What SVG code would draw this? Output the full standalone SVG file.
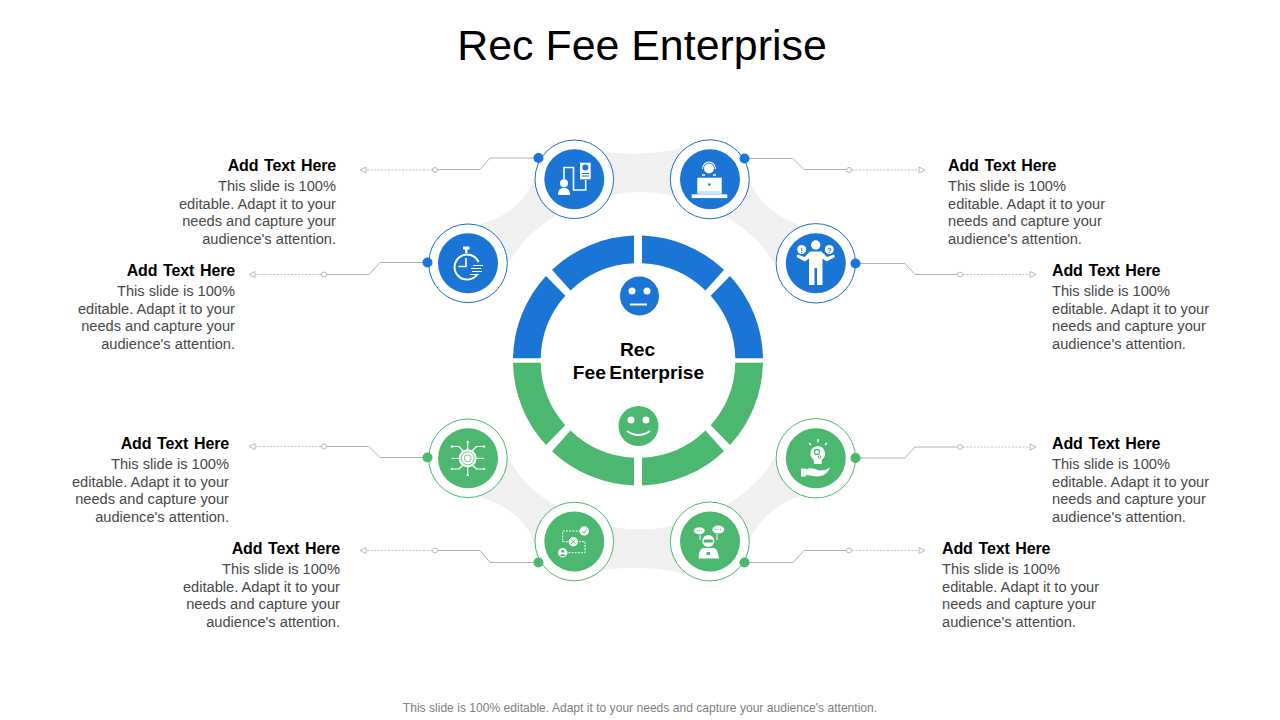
<svg xmlns="http://www.w3.org/2000/svg" width="1280" height="720" viewBox="0 0 1280 720">
<style>
text{font-family:"Liberation Sans",Arial,sans-serif}
.title{font-size:42.9px;fill:#000;text-anchor:middle}
.h{font-size:16px;font-weight:700;fill:#000;word-spacing:1.5px;letter-spacing:-.15px}
.b{font-size:14.65px;fill:#484848}
.e{text-anchor:end}
.foot{font-size:12.08px;fill:#7f7f7f;text-anchor:middle}
.center{font-size:19.2px;font-weight:700;fill:#000;text-anchor:middle}
.blue{fill:#1a75d4}.green{fill:#4cb86f}
.rb{fill:#fff;stroke:#1d6fc0;stroke-width:1}
.rg{fill:#fff;stroke:#4cb86f;stroke-width:1}
.w{fill:#fff}
.ws{fill:none;stroke:#fff;stroke-width:1.6}
.wd{fill:none;stroke:#fff;stroke-width:1;stroke-dasharray:2 1.2}
.line{fill:none;stroke:#b0b0b0;stroke-width:1}
.dash{fill:none;stroke:#c0c0c0;stroke-width:1;stroke-dasharray:2 1.5}
.hol{fill:#fff;stroke:#b8b8b8;stroke-width:1}
.band{fill:#f0f0f0}
</style>
<defs>
<path id="segA" d="M4,-124.94A125,125 0 0 1 86,-90.7L67.5,-70A97.3,97.3 0 0 0 4,-97.2Z"/>
<path id="segB" d="M92,-84.6A125,125 0 0 1 125,-2.2L97.3,-2.2A97.3,97.3 0 0 0 72.7,-64.7Z"/>
<path id="bandTop" d="M468,263L480,224C505,218 530,200 537,170L600,151C625,155 655,155 682,148L746,170C753,200 778,219 803,226L815,263L773,262C752,222 690,192 640,192C590,192 528,222 510,262Z"/>
</defs>
<rect width="1280" height="720" fill="#fff"/>
<text class="title" x="642" y="60">Rec Fee Enterprise</text>
<g id="bands" class="band">
<use href="#bandTop"/>
<use href="#bandTop" transform="translate(0,721.5) scale(1,-1)"/>
</g>
<g id="connectors">
<path class="line" d="M538,158H490L480,169.5H432"/><path class="dash" d="M432,170H365"/><circle class="hol" cx="435" cy="170" r="2.5"/><path class="hol" d="M360,170L366,167V173Z"/>
<path class="line" d="M745,158.500H793L804,169.500H852"/><path class="dash" d="M852,170H920"/><circle class="hol" cx="849" cy="170" r="2.5"/><path class="hol" d="M925,170L919,167V173Z"/>
<path class="line" d="M427,262.500H380L369,274.500H321"/><path class="dash" d="M321,274.500H254"/><circle class="hol" cx="324" cy="274.500" r="2.500"/><path class="hol" d="M249,274.500L255,271.500V277.500Z"/>
<path class="line" d="M856,263.500H905L915,274.500H963"/><path class="dash" d="M963,274.500H1030"/><circle class="hol" cx="960" cy="274.500" r="2.500"/><path class="hol" d="M1036,274.500L1030,271.500V277.500Z"/>
<path class="line" d="M427,457.500H380L369,446.500H321"/><path class="dash" d="M321,446.500H254"/><circle class="hol" cx="324" cy="446.500" r="2.500"/><path class="hol" d="M249,446.500L255,443.500V449.500Z"/>
<path class="line" d="M856,458H905L915,447H963"/><path class="dash" d="M963,447H1030"/><circle class="hol" cx="960" cy="447" r="2.500"/><path class="hol" d="M1036,447L1030,444V450Z"/>
<path class="line" d="M538,562.500H490L480,550.500H432"/><path class="dash" d="M432,550.500H365"/><circle class="hol" cx="435" cy="550.500" r="2.500"/><path class="hol" d="M360,550.500L366,547.500V553.500Z"/>
<path class="line" d="M745,562.500H793L804,550.500H852"/><path class="dash" d="M852,550.500H920"/><circle class="hol" cx="849" cy="550.500" r="2.500"/><path class="hol" d="M925,550.500L919,547.500V553.500Z"/>
</g>
<g id="hub">
<g class="blue" transform="translate(638,360.500)">
<use href="#segA"/><use href="#segB"/>
<g transform="scale(-1,1)"><use href="#segA"/><use href="#segB"/></g>
</g>
<g class="green" transform="translate(638,360.500) scale(1,-1)">
<use href="#segA"/><use href="#segB"/>
<g transform="scale(-1,1)"><use href="#segA"/><use href="#segB"/></g>
</g>
<circle class="blue" cx="639.500" cy="296" r="19.500"/>
<circle class="w" cx="632" cy="291" r="3.500"/><circle class="w" cx="647" cy="291" r="3.500"/>
<rect class="w" x="630" y="303.500" width="17" height="2"/>
<circle class="green" cx="638.500" cy="426" r="20"/>
<circle class="w" cx="631" cy="420" r="3.500"/><circle class="w" cx="646" cy="420" r="3.500"/>
<path d="M627,431Q638.500,439 650,431" fill="none" stroke="#fff" stroke-width="2"/>
<text class="center" x="637.500" y="355.500">Rec</text>
<text class="center" x="638.500" y="378.500" word-spacing="-2">Fee Enterprise</text>
</g>
<g id="node1">
<circle class="rb" cx="574.300" cy="179.300" r="39.300"/><circle class="blue" cx="574.300" cy="179.300" r="30"/><circle class="blue" cx="538.500" cy="158" r="5"/>
<circle class="w" cx="564" cy="183.300" r="4"/><path class="w" d="M558,195C558,189 561,188 564,188C567,188 570,189 570,195Z"/>
<path class="ws" d="M564,179V167.500H573.500V190H585.700V180"/>
<rect class="w" x="580" y="162.700" width="10.700" height="16.600"/><circle class="blue" cx="585.300" cy="167.500" r="3"/><path d="M582,173.500H589M582,176H589" stroke="#1a75d4" stroke-width="1"/>
</g>
<g id="node2">
<circle class="rb" cx="709.800" cy="179.300" r="39.500"/><circle class="blue" cx="710" cy="179.300" r="30"/><circle class="blue" cx="744.500" cy="158.500" r="5"/>
<circle class="w" cx="709" cy="168.500" r="5"/><path d="M702.500,171A6.500,7 0 0 1 715.500,171" fill="none" stroke="#fff" stroke-width="1.200" transform="translate(0,-2)"/><path d="M702,175L705,175M713,175L716,175" stroke="#fff" stroke-width="1.500"/>
<rect class="w" x="697.300" y="177.700" width="24.400" height="15"/><circle class="blue" cx="709.300" cy="184.500" r="1.200"/>
<rect x="697.300" y="191" width="24.400" height="3" fill="#cfe3f7"/><rect class="w" x="691.700" y="194.300" width="35.600" height="3.800"/>
</g>
<g id="node3">
<circle class="rb" cx="468" cy="263.300" r="39.300"/><circle class="blue" cx="468" cy="263.300" r="30"/><circle class="blue" cx="427.500" cy="262.500" r="5"/>
<path d="M477.500,274A12.500,12.500 0 1 1 478.500,262" fill="none" stroke="#fff" stroke-width="2"/>
<rect class="w" x="463" y="246.500" width="6.500" height="3"/><rect class="w" x="465" y="249" width="2.500" height="4"/>
<path class="ws" d="M466,258V266.500H458.500"/>
<path d="M473,265.500H483M471,268.500H481M472,271.500H482M470,274.500H479" stroke="#fff" stroke-width="1.200" fill="none"/>
</g>
<g id="node4">
<circle class="rb" cx="815.800" cy="263.300" r="39.700"/><circle class="blue" cx="815.800" cy="263.300" r="30"/><circle class="blue" cx="855.500" cy="263.500" r="5"/>
<circle class="w" cx="815.700" cy="245" r="4.700"/>
<path class="w" d="M810,251.500H821.500L827,257L834,254.500L835,257L826.500,261.500L822.500,258.500V285H817V268H814.500V285H809V258.500L805,261.500L796.500,257L797.500,254.500L804.500,257Z"/>
<circle class="w" cx="801.700" cy="249.500" r="4.500"/><circle class="w" cx="829.300" cy="249.500" r="4.500"/>
<text x="801.700" y="252.500" font-size="8" font-weight="700" fill="#1a75d4" text-anchor="middle">!</text>
<text x="829.300" y="252.500" font-size="8" font-weight="700" fill="#1a75d4" text-anchor="middle">?</text>
</g>
<g id="node5">
<circle class="rg" cx="468" cy="458.300" r="39.300"/><circle class="green" cx="468" cy="458.300" r="30"/><circle class="green" cx="427.500" cy="457.500" r="5"/>
<path d="M467.700,441.500V475M451.500,458.300H484M451.500,446.500H459L463,451M484,446.500H476.500L472,451M451.500,469H459L463,465M484,469H476.500L472,465" fill="none" stroke="#fff" stroke-width="1.200"/>
<circle class="w" cx="467.700" cy="442" r="1.300"/><circle class="w" cx="467.700" cy="475" r="1.300"/><circle class="w" cx="452" cy="446.500" r="1.300"/><circle class="w" cx="484" cy="446.500" r="1.300"/><circle class="w" cx="452" cy="469" r="1.300"/><circle class="w" cx="484" cy="469" r="1.300"/>
<circle class="w" cx="467.700" cy="458.300" r="9"/>
<circle cx="467.700" cy="458.300" r="6.500" fill="none" stroke="#4cb86f" stroke-width=".8"/><circle cx="467.700" cy="458.300" r="3.500" fill="none" stroke="#4cb86f" stroke-width=".8"/>
</g>
<g id="node6">
<circle class="rg" cx="815.800" cy="458.300" r="39.700"/><circle class="green" cx="815.800" cy="458.300" r="30"/><circle class="green" cx="855.500" cy="458" r="5"/>
<path class="w" d="M817.700,446A7.500,7.500 0 0 1 822,459.500L821.500,464H814L813.500,459.500A7.500,7.500 0 0 1 817.700,446Z"/>
<circle cx="817" cy="452" r="2.500" fill="none" stroke="#4cb86f" stroke-width="1.300"/><circle cx="819.500" cy="457" r="1.300" fill="none" stroke="#4cb86f" stroke-width="1"/>
<path d="M818,439V442.500M809,443L811,445M827,443L825,445" stroke="#fff" stroke-width="1.300"/>
<path class="w" d="M801,468.500H806V469.500C811,467 815,469 819,470.500L825,470L830,467.500C829,471 825,476 818,476.500C813,476.500 810,475 806,475V476.500H801Z"/>
</g>
<g id="node7">
<circle class="rg" cx="574.300" cy="541.500" r="39.300"/><circle class="green" cx="574.300" cy="541.500" r="30"/><circle class="green" cx="538.500" cy="562.500" r="5"/>
<path class="wd" d="M584,531H562.700V541.700H585V552.700H563"/>
<circle class="w" cx="584.300" cy="531" r="4.700"/><path d="M582,531L584,533L587,529" fill="none" stroke="#4cb86f" stroke-width="1"/>
<circle class="w" cx="573.300" cy="541.700" r="4.700"/><path d="M571,539.500L575.500,544M575.500,539.500L571,544" stroke="#4cb86f" stroke-width="1"/>
<circle class="w" cx="562.700" cy="552.700" r="4.700"/><circle class="green" cx="562.700" cy="551.200" r="1.500"/><path class="green" d="M559.700,556C560,553.500 565.400,553.500 565.700,556Z"/>
</g>
<g id="node8">
<circle class="rg" cx="709.800" cy="541.500" r="39.500"/><circle class="green" cx="710" cy="541.500" r="30"/><circle class="green" cx="744.500" cy="562.500" r="5"/>
<ellipse class="w" cx="699.300" cy="530.700" rx="5.500" ry="3.500"/><ellipse class="w" cx="718.300" cy="529.500" rx="6" ry="4"/>
<path d="M697,530.700H702M715.500,529.500H721" stroke="#4cb86f" stroke-width="1" stroke-dasharray="1 1.200"/>
<path d="M700,535V540M717,534V540" stroke="#fff" stroke-width="1"/>
<circle class="w" cx="708.300" cy="541" r="6"/><rect x="703.500" y="539.500" width="9.500" height="3" rx="1.500" fill="#4cb86f"/>
<path class="w" d="M703,548H714C717,549 718,552 719,558.500H698.500C699,552 700,549 703,548Z"/><rect x="706.500" y="552" width="3.500" height="3" fill="#4cb86f"/>
</g>
<g id="label1"><text class="h e" x="336" y="170.500">Add Text Here</text><text class="b e"><tspan x="336" y="191">This slide is 100%</tspan><tspan x="336" y="208.500">editable. Adapt it to your</tspan><tspan x="336" y="226">needs and capture your</tspan><tspan x="336" y="244">audience's attention.</tspan></text></g>
<g id="label2"><text class="h" x="948" y="170.500">Add Text Here</text><text class="b"><tspan x="948" y="191">This slide is 100%</tspan><tspan x="948" y="208.500">editable. Adapt it to your</tspan><tspan x="948" y="226">needs and capture your</tspan><tspan x="948" y="244">audience's attention.</tspan></text></g>
<g id="label3"><text class="h e" x="235" y="275.500">Add Text Here</text><text class="b e"><tspan x="235" y="296">This slide is 100%</tspan><tspan x="235" y="313.500">editable. Adapt it to your</tspan><tspan x="235" y="331">needs and capture your</tspan><tspan x="235" y="349">audience's attention.</tspan></text></g>
<g id="label4"><text class="h" x="1052" y="275.500">Add Text Here</text><text class="b"><tspan x="1052" y="296">This slide is 100%</tspan><tspan x="1052" y="313.500">editable. Adapt it to your</tspan><tspan x="1052" y="331">needs and capture your</tspan><tspan x="1052" y="349">audience's attention.</tspan></text></g>
<g id="label5"><text class="h e" x="229" y="448.500">Add Text Here</text><text class="b e"><tspan x="229" y="469">This slide is 100%</tspan><tspan x="229" y="486.500">editable. Adapt it to your</tspan><tspan x="229" y="504">needs and capture your</tspan><tspan x="229" y="522">audience's attention.</tspan></text></g>
<g id="label6"><text class="h" x="1052" y="448.500">Add Text Here</text><text class="b"><tspan x="1052" y="469">This slide is 100%</tspan><tspan x="1052" y="486.500">editable. Adapt it to your</tspan><tspan x="1052" y="504">needs and capture your</tspan><tspan x="1052" y="522">audience's attention.</tspan></text></g>
<g id="label7"><text class="h e" x="340" y="553.500">Add Text Here</text><text class="b e"><tspan x="340" y="574">This slide is 100%</tspan><tspan x="340" y="591.500">editable. Adapt it to your</tspan><tspan x="340" y="609">needs and capture your</tspan><tspan x="340" y="627">audience's attention.</tspan></text></g>
<g id="label8"><text class="h" x="942" y="553.500">Add Text Here</text><text class="b"><tspan x="942" y="574">This slide is 100%</tspan><tspan x="942" y="591.500">editable. Adapt it to your</tspan><tspan x="942" y="609">needs and capture your</tspan><tspan x="942" y="627">audience's attention.</tspan></text></g>
<text class="foot" x="640" y="711.500">This slide is 100% editable. Adapt it to your needs and capture your audience's attention.</text>
</svg>
